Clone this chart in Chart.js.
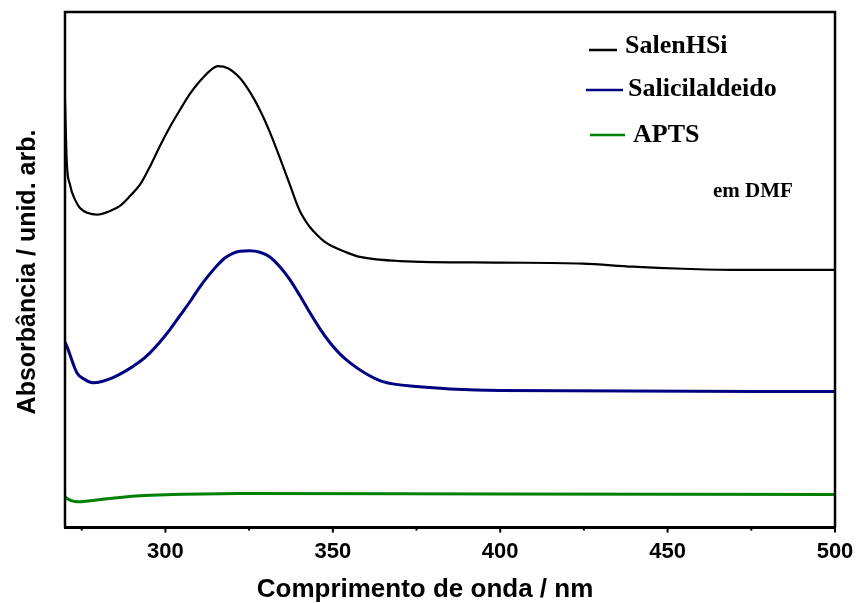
<!DOCTYPE html>
<html>
<head>
<meta charset="utf-8">
<script src="https://cdn.jsdelivr.net/npm/chart.js@4"></script>
<style>
  html, body { margin: 0; padding: 0; background: #fff; }
</style>
</head>
<body>
<canvas id="uvChart" width="859" height="603"></canvas>
<script>
// UV-Vis spectra in DMF, absorbance in arbitrary units (offset curves)
const salenX = [270, 270.51, 271.49, 272.99, 274.48, 276.87, 279.55, 283.43, 286.42, 289.40, 292.39, 295.37, 298.36, 301.34, 304.33, 307.31, 310.30, 313.28, 315.67, 318.66, 322.24, 325.22, 328.21, 331.19, 334.18, 337.16, 338.66, 340.15, 341.64, 343.13, 345.22, 347.61, 350.0, 353.58, 358.06, 370.0, 399.9, 424.6, 439.6, 454.5, 469.4, 500];
const salenY = [0.829, 0.711, 0.665, 0.636, 0.620, 0.610, 0.607, 0.614, 0.624, 0.643, 0.665, 0.700, 0.740, 0.777, 0.810, 0.841, 0.866, 0.886, 0.895, 0.891, 0.872, 0.845, 0.810, 0.767, 0.717, 0.665, 0.638, 0.614, 0.597, 0.583, 0.568, 0.554, 0.545, 0.535, 0.525, 0.517, 0.514, 0.512, 0.506, 0.502, 0.500, 0.500];

const salicX = [270, 270.60, 273.58, 275.97, 278.36, 284.33, 292.39, 295.37, 298.36, 301.34, 304.33, 307.31, 310.30, 313.28, 315.37, 317.76, 320.15, 322.24, 325.22, 328.21, 331.19, 334.18, 337.16, 340.15, 343.13, 346.12, 349.10, 352.09, 355.07, 359.55, 364.93, 375.97, 384.93, 399.85, 500];
const salicY = [0.360, 0.351, 0.300, 0.287, 0.281, 0.291, 0.322, 0.339, 0.360, 0.384, 0.411, 0.438, 0.467, 0.492, 0.508, 0.523, 0.532, 0.536, 0.537, 0.534, 0.525, 0.506, 0.481, 0.450, 0.417, 0.386, 0.359, 0.337, 0.320, 0.300, 0.283, 0.273, 0.269, 0.266, 0.264];

const aptsX = [270, 270.3, 273.9, 282.5, 292.4, 302.2, 322.2, 400, 500];
const aptsY = [0.060, 0.058, 0.050, 0.056, 0.062, 0.064, 0.066, 0.065, 0.064];

const majorTicks = [300, 350, 400, 450, 500];
const minorTicks = [275, 325, 375, 425, 475];

const seriesNames = ['SalenHSi', 'Salicilaldeido', 'APTS'];
const seriesColors = ['#000000', '#000080', '#008000'];

function pts(xs, ys) {
  return xs.map((x, i) => ({ x: x, y: ys[i] }));
}

const sans = 'Liberation Sans, Arial, sans-serif';
const serif = 'Liberation Serif, Times New Roman, serif';

// frame, tick marks, axis titles and the hand-placed legend
const decorPlugin = {
  id: 'decor',
  afterDraw(chart) {
    const ctx = chart.ctx;
    const a = chart.chartArea;
    const xs = chart.scales.x;
    ctx.save();
    ctx.strokeStyle = '#000';
    ctx.lineWidth = 2.5;
    ctx.beginPath();
    ctx.moveTo(a.left, a.bottom);
    ctx.lineTo(a.left, a.top);
    ctx.lineTo(a.right, a.top);
    ctx.lineTo(a.right, a.bottom);
    ctx.stroke();
    ctx.lineWidth = 3;
    ctx.beginPath();
    ctx.moveTo(a.left - 1, a.bottom);
    ctx.lineTo(a.right + 1, a.bottom);
    ctx.stroke();

    ctx.lineWidth = 2;
    majorTicks.forEach(v => {
      const px = xs.getPixelForValue(v);
      ctx.beginPath();
      ctx.moveTo(px, a.bottom);
      ctx.lineTo(px, a.bottom + 5);
      ctx.stroke();
    });
    minorTicks.forEach(v => {
      const px = xs.getPixelForValue(v);
      ctx.beginPath();
      ctx.moveTo(px, a.bottom);
      ctx.lineTo(px, a.bottom + 3);
      ctx.stroke();
    });

    // axis titles
    ctx.fillStyle = '#000';
    ctx.textAlign = 'center';
    ctx.textBaseline = 'alphabetic';
    ctx.font = 'bold 26px ' + sans;
    ctx.fillText('Comprimento de onda / nm', 425, 597);
    ctx.font = 'bold 25px ' + sans;
    ctx.save();
    ctx.translate(35, 272);
    ctx.rotate(-Math.PI / 2);
    ctx.fillText('Absorbância / unid. arb.', 0, 0);
    ctx.restore();

    // legend
    const rows = [
      { x1: 589, x2: 617, ly: 50, tx: 625, ty: 53 },
      { x1: 586, x2: 623, ly: 90, tx: 628, ty: 96 },
      { x1: 590, x2: 625, ly: 135, tx: 633, ty: 142 }
    ];
    ctx.textAlign = 'left';
    ctx.font = 'bold 26px ' + serif;
    chart.data.datasets.forEach((ds, i) => {
      const r = rows[i];
      ctx.strokeStyle = ds.borderColor;
      ctx.lineWidth = 2.5;
      ctx.beginPath();
      ctx.moveTo(r.x1, r.ly);
      ctx.lineTo(r.x2, r.ly);
      ctx.stroke();
      ctx.fillStyle = '#000';
      ctx.fillText(ds.label, r.tx, r.ty);
    });
    ctx.font = 'bold 21px ' + serif;
    ctx.fillText('em DMF', 713, 197);
    ctx.restore();
  }
};

const ctx = document.getElementById('uvChart').getContext('2d');

new Chart(ctx, {
  type: 'line',
  data: {
    datasets: [
      { label: seriesNames[0], data: pts(salenX, salenY), borderColor: seriesColors[0], borderWidth: 2.2 },
      { label: seriesNames[1], data: pts(salicX, salicY), borderColor: seriesColors[1], borderWidth: 3 },
      { label: seriesNames[2], data: pts(aptsX, aptsY), borderColor: seriesColors[2], borderWidth: 3 }
    ].map(d => Object.assign(d, { fill: false, pointRadius: 0, cubicInterpolationMode: 'monotone', borderJoinStyle: 'round' }))
  },
  options: {
    responsive: false,
    animation: false,
    layout: { padding: { left: 65, right: 24, top: 12, bottom: 27 } },
    plugins: { legend: { display: false }, tooltip: { enabled: false } },
    scales: {
      x: {
        type: 'linear',
        min: 270,
        max: 500,
        grid: { display: false, drawTicks: false },
        border: { display: false },
        afterBuildTicks: axis => { axis.ticks = majorTicks.map(v => ({ value: v })); },
        afterFit: axis => { axis.paddingLeft = 0; axis.paddingRight = 0; },
        ticks: {
          color: '#000',
          padding: 11,
          maxRotation: 0,
          autoSkip: false,
          font: { family: sans, size: 22, weight: 'bold' }
        }
      },
      y: { display: false, min: 0, max: 1 }
    }
  },
  plugins: [decorPlugin]
});
</script>
</body>
</html>
